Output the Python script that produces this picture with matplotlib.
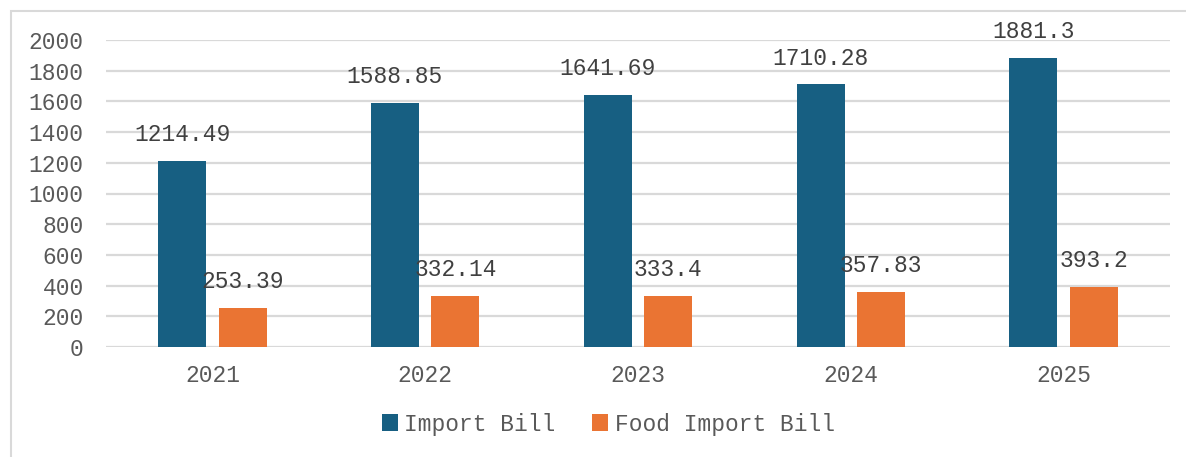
import numpy as np
import matplotlib.pyplot as plt
from matplotlib.patches import Rectangle

years = ["2021", "2022", "2023", "2024", "2025"]
import_bill = [1214.49, 1588.85, 1641.69, 1710.28, 1881.3]
food_import_bill = [253.39, 332.14, 333.4, 357.83, 393.2]

blue = "#175f82"
orange = "#ea7433"
grey_txt = "#595959"

plt.rcParams["font.family"] = ["Liberation Mono", "DejaVu Sans Mono"]

fig = plt.figure(figsize=(11.86, 4.57), dpi=100)
ax = fig.add_axes([106 / 1186, 1 - 347 / 457, (1170 - 106) / 1186, 307 / 457])

x = np.arange(len(years))
w = 0.225
off = 0.142
b1 = ax.bar(x - off, import_bill, w, color=blue, label="Import Bill", zorder=3)
b2 = ax.bar(x + off, food_import_bill, w, color=orange, label="Food Import Bill", zorder=3)

for bars, vals in ((b1, import_bill), (b2, food_import_bill)):
    for r, v in zip(bars, vals):
        ax.annotate(f"{v:g}", (r.get_x() + r.get_width() / 2, v),
                    xytext=(0, 19), textcoords="offset points",
                    ha="center", va="center", fontsize=16.5, color="#404040", zorder=4)

ax.set_xlim(-0.5, len(years) - 0.5)
ax.set_ylim(0, 2000)
ax.set_yticks(range(0, 2001, 200))
ax.set_xticks(x)
ax.set_xticklabels(years)
ax.tick_params(axis="both", length=0, labelsize=16.5, labelcolor=grey_txt)
ax.tick_params(axis="y", pad=16)
ax.tick_params(axis="x", pad=12)
ax.yaxis.grid(True, color="#d9d9d9", linewidth=1.6, zorder=0)
for s in ax.spines.values():
    s.set_visible(False)

fig.legend(loc="center", bbox_to_anchor=(0.513, 1 - 424 / 457), ncol=2, frameon=False,
           fontsize=16.5, labelcolor=grey_txt, handlelength=0.7, handleheight=0.7,
           handletextpad=0.3, columnspacing=1.6)

fig.patches.append(Rectangle((11 / 1186, -0.1), 1.5, 1 - 11 / 457 + 0.1,
                             transform=fig.transFigure, fill=False,
                             edgecolor="#d9d9d9", linewidth=1.5))

fig.savefig("out.png", dpi=100)
